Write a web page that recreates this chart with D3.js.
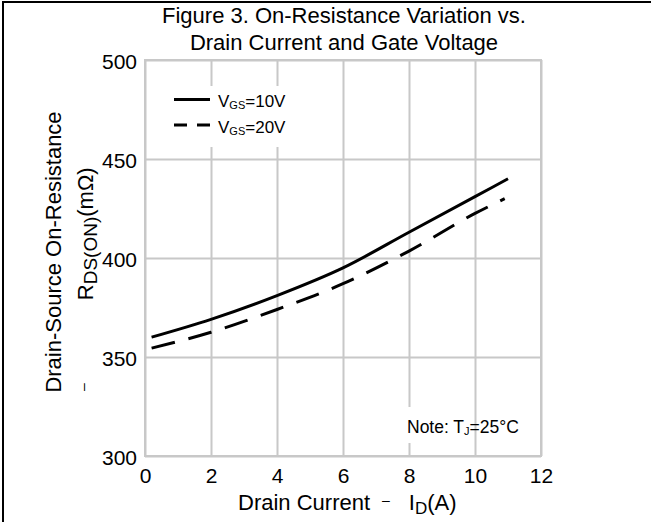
<!DOCTYPE html>
<html>
<head>
<meta charset="utf-8">
<script src="https://cdn.jsdelivr.net/npm/d3@7"></script>
<style>
  body { margin: 0; background: #fff; }
  svg text { font-family: "Liberation Sans", Arial, sans-serif; fill: #000; }
  .grid line { stroke: #c8c8c8; stroke-width: 2; }
  .grid path { display: none; }
</style>
</head>
<body>
<div class="chart"></div>
<script>
//Width and height
var width = 651, height = 522;

// chart values
var xTicks = [0, 2, 4, 6, 8, 10, 12];
var yTicks = [300, 350, 400, 450, 500];
var current10 = [0.2, 2, 4, 6, 8, 10, 11];
var rdsVgs10 = [360, 369, 381, 395, 413, 431, 440];
var current20 = [0.2, 2, 4, 6, 8, 10, 10.9];
var rdsVgs20 = [354.5, 362.5, 374, 387, 403.5, 422.5, 430];

// plot area (no "top" here, that name belongs to window)
var plotLeft = 145, plotRight = 541, plotTop = 60, plotBottom = 456;

var x = d3.scaleLinear().domain([0, 12]).range([plotLeft, plotRight]);
var y = d3.scaleLinear().domain([300, 500]).range([plotBottom, plotTop]);

var svg = d3.select("div.chart")
    .append("svg")
    .attr("width", width)
    .attr("height", height);

// page frame (left and top only)
svg.append("line").attr("x1", 3).attr("x2", 3).attr("y1", 1).attr("y2", height)
    .style("stroke", "#000").style("stroke-width", 2);
svg.append("line").attr("x1", 2).attr("x2", width).attr("y1", 2).attr("y2", 2)
    .style("stroke", "#000").style("stroke-width", 2);

// grid + tick labels
var xAxis = svg.append("g")
    .attr("class", "grid")
    .attr("transform", "translate(0," + plotBottom + ")")
    .call(d3.axisBottom(x).tickValues(xTicks).tickSize(-(plotBottom - plotTop)).tickPadding(0));
xAxis.selectAll("text")
    .style("font-size", "21px")
    .attr("y", 27).attr("dy", 0);

var yAxis = svg.append("g")
    .attr("class", "grid")
    .attr("transform", "translate(" + plotLeft + ",0)")
    .call(d3.axisLeft(y).tickValues(yTicks).tickSize(-(plotRight - plotLeft)).tickPadding(0));
yAxis.selectAll("text")
    .style("font-size", "21px")
    .attr("x", -8).attr("dy", "0.42em");
xAxis.attr("font-size", null).attr("font-family", null);
yAxis.attr("font-size", null).attr("font-family", null);

// frame of plot
svg.append("rect")
    .attr("x", plotLeft).attr("y", plotTop)
    .attr("width", plotRight - plotLeft).attr("height", plotBottom - plotTop)
    .style("fill", "none").style("stroke", "#c8c8c8").style("stroke-width", 2);

// white boxes behind legend and note
svg.append("rect").attr("x", 170).attr("y", 86).attr("width", 120).attr("height", 61)
    .style("fill", "#fff");
svg.append("rect").attr("x", 402).attr("y", 407).attr("width", 60).attr("height", 36)
    .style("fill", "#fff");

// curves
var line = d3.line()
    .x(function (d) { return x(d[0]); })
    .y(function (d) { return y(d[1]); })
    .curve(d3.curveMonotoneX);

svg.append("path")
    .datum(d3.zip(current10, rdsVgs10))
    .attr("d", line)
    .style("fill", "none").style("stroke", "#000").style("stroke-width", 3);

svg.append("path")
    .datum(d3.zip(current20, rdsVgs20))
    .attr("d", line)
    .style("fill", "none").style("stroke", "#000").style("stroke-width", 3)
    .style("stroke-dasharray", "24,14");

// legend
svg.append("line").attr("x1", 174).attr("x2", 210).attr("y1", 99.5).attr("y2", 99.5)
    .style("stroke", "#000").style("stroke-width", 3);
svg.append("line").attr("x1", 174).attr("x2", 210).attr("y1", 125).attr("y2", 125)
    .style("stroke", "#000").style("stroke-width", 3).style("stroke-dasharray", "13,10");

var leg1 = svg.append("text").attr("x", 218).attr("y", 106.5).style("font-size", "17px");
leg1.append("tspan").text("V");
leg1.append("tspan").attr("dy", 2).style("font-size", "11px").text("GS");
leg1.append("tspan").attr("dy", -2).text("=10V");
var leg2 = svg.append("text").attr("x", 218).attr("y", 133).style("font-size", "17px");
leg2.append("tspan").text("V");
leg2.append("tspan").attr("dy", 2).style("font-size", "11px").text("GS");
leg2.append("tspan").attr("dy", -2).text("=20V");

// note
var note = svg.append("text").attr("x", 407).attr("y", 433).style("font-size", "17.5px");
note.append("tspan").text("Note: T");
note.append("tspan").attr("dy", 2).style("font-size", "11px").text("J");
note.append("tspan").attr("dy", -2).text("=25°C");

// title
svg.append("text").attr("x", 344).attr("y", 23).attr("text-anchor", "middle")
    .style("font-size", "22px").text("Figure 3. On-Resistance Variation vs.");
svg.append("text").attr("x", 344).attr("y", 50).attr("text-anchor", "middle")
    .style("font-size", "22px").text("Drain Current and Gate Voltage");

// x label
var xl = svg.append("text").attr("x", 238).attr("y", 510)
    .style("font-size", "22px");
xl.append("tspan").text("Drain Current");
xl.append("tspan").attr("dx", 12).attr("dy", -5).style("font-size", "14px").text("\u2013");
xl.append("tspan").attr("dx", 19).attr("dy", 5).text("I");
xl.append("tspan").attr("dy", 4).style("font-size", "17px").text("D");
xl.append("tspan").attr("dy", -4).text("(A)");

// y label
svg.append("text")
    .attr("transform", "translate(61,252) rotate(-90)")
    .attr("text-anchor", "middle")
    .style("font-size", "22px")
    .text("Drain-Source On-Resistance");
var yl = svg.append("text")
    .attr("transform", "translate(93,391) rotate(-90)")
    .style("font-size", "22px");
yl.append("tspan").attr("dy", -5).style("font-size", "14px").text("\u2013");
yl.append("tspan").attr("dx", 83).attr("dy", 5).text("R");
yl.append("tspan").attr("dy", 4).style("font-size", "19px").text("DS(ON)");
yl.append("tspan").attr("dy", -4).text("(m\u03A9)");
</script>
</body>
</html>
